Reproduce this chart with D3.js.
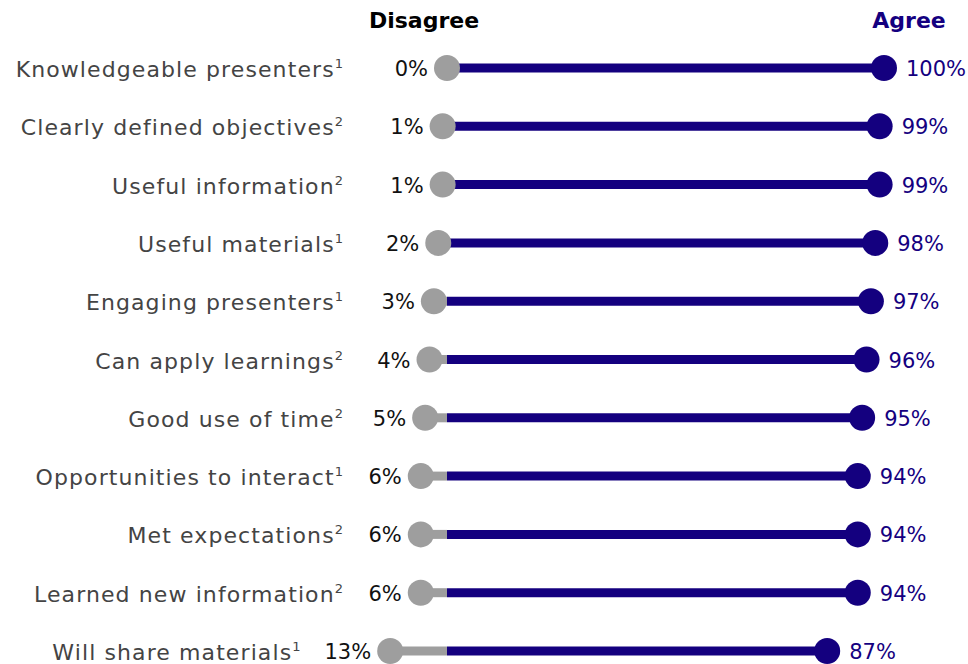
<!DOCTYPE html>
<html>
<head>
<meta charset="utf-8">
<script src="https://cdn.jsdelivr.net/npm/d3@7/dist/d3.min.js"></script>
<style>
  html, body { margin: 0; padding: 0; background: #fff; }
  svg { display: block; font-family: "DejaVu Sans", sans-serif; }
</style>
</head>
<body>
<svg id="chart" width="968" height="664"></svg>
<script>
// Survey items, footnote markers and response shares (%)
const items = [
  "Knowledgeable presenters",
  "Clearly defined objectives",
  "Useful information",
  "Useful materials",
  "Engaging presenters",
  "Can apply learnings",
  "Good use of time",
  "Opportunities to interact",
  "Met expectations",
  "Learned new information",
  "Will share materials"
];
const notes = ["1", "2", "2", "1", "1", "2", "2", "1", "2", "2", "1"];
const disagree = [0, 1, 1, 2, 3, 4, 5, 6, 6, 6, 13];
const agree = [100, 99, 99, 98, 97, 96, 95, 94, 94, 94, 87];

const NAVY = "#14007f";
const GREY = "#9e9e9e";

const svg = d3.select("#chart");

const x = d3.scaleLinear().domain([0, 100]).range([447, 884]);
const y = d3.scalePoint().domain(d3.range(items.length)).range([68, 651]);

const rows = items.map((name, i) => ({
  i, name, note: notes[i], dis: disagree[i], agr: agree[i]
}));

// Column headers
svg.append("text")
  .attr("x", 424).attr("y", 28)
  .attr("text-anchor", "middle")
  .attr("font-size", 22).attr("font-weight", 700)
  .attr("fill", "#000")
  .text("Disagree");
svg.append("text")
  .attr("x", 909).attr("y", 28)
  .attr("text-anchor", "middle")
  .attr("font-size", 22).attr("font-weight", 700)
  .attr("fill", NAVY)
  .text("Agree");

const g = svg.selectAll("g.row").data(rows).join("g")
  .attr("class", "row")
  .attr("transform", d => `translate(0,${y(d.i)})`);

// Disagree share: grey stem left of zero
g.append("line")
  .attr("x1", d => x(-d.dis)).attr("x2", x(0))
  .attr("stroke", GREY).attr("stroke-width", 9);
// Agree share: navy stem right of zero
g.append("line")
  .attr("x1", x(0)).attr("x2", d => x(d.agr))
  .attr("stroke", NAVY).attr("stroke-width", 9);

g.append("circle")
  .attr("cx", d => x(-d.dis)).attr("r", 13)
  .attr("fill", GREY);
g.append("circle")
  .attr("cx", d => x(d.agr)).attr("r", 13)
  .attr("fill", NAVY);

// Value labels
const disLabels = g.append("text")
  .attr("x", d => x(-d.dis) - 19).attr("y", 8)
  .attr("text-anchor", "end")
  .attr("font-size", 21).attr("fill", "#111")
  .text(d => d.dis + "%");
g.append("text")
  .attr("x", d => x(d.agr) + 22).attr("y", 8)
  .attr("font-size", 21).attr("fill", NAVY)
  .text(d => d.agr + "%");

// Item labels, right-aligned, kept clear of the disagree value
disLabels.each(function (d) {
  d.labelEnd = Math.min(343, this.getBBox().x - 24);
});
const lab = g.append("text")
  .attr("x", d => d.labelEnd).attr("y", 9)
  .attr("text-anchor", "end")
  .attr("fill", "#444");
lab.append("tspan")
  .attr("font-size", 22).attr("letter-spacing", 1.1)
  .text(d => d.name);
lab.append("tspan")
  .attr("font-size", 13).attr("dy", -9)
  .text(d => d.note);
</script>
</body>
</html>
